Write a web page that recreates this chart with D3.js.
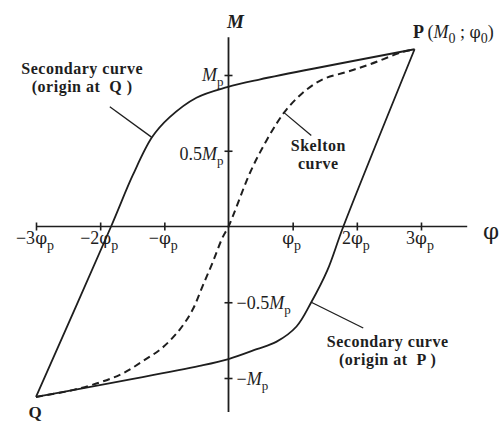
<!DOCTYPE html>
<html>
<head>
<meta charset="utf-8">
<script src="https://cdn.jsdelivr.net/npm/d3@7/dist/d3.min.js"></script>
<style>
  html, body { margin: 0; padding: 0; background: #fff; }
  svg { display: block; }
  text { font-family: "Liberation Serif", "DejaVu Serif", serif; fill: #1e1e1e; white-space: pre; }
  .phi { font-family: "DejaVu Serif", serif; }
</style>
</head>
<body>
<div id="chart"></div>
<script>
// Moment–curvature hysteresis: skeleton curve and the two secondary (unloading) curves.
// Curvature φ in units of φp, moment M in units of Mp.

// Skeleton curve, Q → origin → P
const skeletonPhi = [-3.00, -2.43, -2.01, -1.65, -1.34, -1.03, -0.76, -0.56, -0.41, -0.25, -0.09, 0.00, 0.33, 0.53, 0.75, 0.90, 1.15, 1.46, 1.84, 2.20, 2.70, 2.90];
const skeletonM   = [-1.125, -1.08, -1.03, -0.97, -0.89, -0.80, -0.68, -0.55, -0.40, -0.24, -0.07, 0.00, 0.35, 0.52, 0.68, 0.77, 0.88, 0.97, 1.02, 1.07, 1.15, 1.17];

// Secondary curve with origin at Q (Q → P)
const secQPhi = [-3.00, -1.83, -1.49, -1.19, -0.92, -0.50, -0.02, 0.48, 2.90];
const secQM   = [-1.125, 0.00, 0.34, 0.59, 0.72, 0.85, 0.92, 0.97, 1.17];

// Secondary curve with origin at P (P → Q)
const secPPhi = [2.90, 1.79, 1.54, 1.29, 1.06, 0.75, 0.44, 0.00, -0.45, -3.00];
const secPM   = [1.17, 0.00, -0.29, -0.50, -0.66, -0.76, -0.81, -0.875, -0.92, -1.125];

// Axis ticks and their labels: prefix, φ, subscript
const xTickValues = [-3, -2, -1, 1, 2, 3];
const xTickPrefix = ["\u22123", "\u22122", "\u2212", "", "2", "3"];
const yTickValues = [1, 0.5, -0.5, -1];
const yTickPrefix = ["", "0.5", "\u22120.5", "\u2212"];
const tickSub     = "p";

const width = 504, height = 421;
const svg = d3.select("#chart").append("svg")
  .attr("width", width).attr("height", height);

const x = d3.scaleLinear().domain([-3, 3]).range([36, 421]);
const y = d3.scaleLinear().domain([-1, 1]).range([378, 75]);

const ink = "#1e1e1e";

// ---- axes ----
const xAxis = d3.axisBottom(x).tickValues(xTickValues).tickFormat("").tickSizeOuter(0).tickSize(4);
const gx = svg.append("g").attr("transform", `translate(0,${y(0)})`).call(xAxis);
gx.select(".domain").remove();
gx.selectAll(".tick line").attr("y1", -4).attr("y2", 4).attr("stroke", ink).attr("stroke-width", 1.6);

const yAxis = d3.axisLeft(y).tickValues(yTickValues).tickFormat("").tickSizeOuter(0).tickSize(4);
const gy = svg.append("g").attr("transform", `translate(${x(0)},0)`).call(yAxis);
gy.select(".domain").remove();
gy.selectAll(".tick line").attr("x1", -4).attr("x2", 4).attr("stroke", ink).attr("stroke-width", 1.6);

svg.append("line")
  .attr("x1", x(-3)).attr("x2", x(3.72))
  .attr("y1", y(0)).attr("y2", y(0))
  .attr("stroke", ink).attr("stroke-width", 1.6);
svg.append("line")
  .attr("x1", x(0)).attr("x2", x(0))
  .attr("y1", y(1.25)).attr("y2", y(-1.225))
  .attr("stroke", ink).attr("stroke-width", 1.8);

// ---- curves ----
const line = d3.line().x(d => x(d[0])).y(d => y(d[1])).curve(d3.curveCatmullRom.alpha(0.5));
const zip = (a, b) => a.map((v, i) => [v, b[i]]);

svg.append("path").datum(zip(skeletonPhi, skeletonM))
  .attr("d", line).attr("fill", "none").attr("stroke", ink)
  .attr("stroke-width", 2).attr("stroke-dasharray", "7,4.5");

svg.append("path").datum(zip(secQPhi, secQM))
  .attr("d", line).attr("fill", "none").attr("stroke", ink).attr("stroke-width", 1.8);

svg.append("path").datum(zip(secPPhi, secPM))
  .attr("d", line).attr("fill", "none").attr("stroke", ink).attr("stroke-width", 1.8);

// ---- tick labels ----
xTickValues.forEach((v, i) => {
  const t = svg.append("text").attr("font-size", 18)
    .attr("x", x(v) - 1).attr("y", y(0) + 17).attr("text-anchor", "middle");
  if (xTickPrefix[i]) t.append("tspan").text(xTickPrefix[i]);
  t.append("tspan").attr("class", "phi").attr("font-size", 17).text("\u03c6");
  t.append("tspan").attr("font-size", 14).attr("dy", 6).text(tickSub);
});

yTickValues.forEach((v, i) => {
  const pos = v > 0;
  const t = svg.append("text").attr("font-size", 18)
    .attr("x", pos ? x(0) - 5 : x(0) + 8)
    .attr("y", y(v) + (pos ? (v === 1 ? 6 : 9) : 7))
    .attr("text-anchor", pos ? "end" : "start");
  if (yTickPrefix[i]) t.append("tspan").text(yTickPrefix[i]);
  t.append("tspan").attr("font-style", "italic").text("M");
  t.append("tspan").attr("font-size", 13).attr("dy", 5).text(tickSub);
});

// ---- axis titles ----
svg.append("text").attr("x", x(0) + 7).attr("y", 28).attr("text-anchor", "middle")
  .attr("font-size", 19).attr("font-weight", "bold").attr("font-style", "italic").text("M");
svg.append("text").attr("class", "phi").attr("x", 491).attr("y", 239).attr("text-anchor", "middle")
  .attr("font-size", 23).text("\u03c6");

// ---- point labels ----
const pLab = svg.append("text").attr("x", 413).attr("y", 38).attr("font-size", 18);
pLab.append("tspan").attr("font-weight", "bold").text("P ");
pLab.append("tspan").text("(");
pLab.append("tspan").attr("font-style", "italic").text("M");
pLab.append("tspan").attr("font-size", 14).attr("dy", 5).text("0");
pLab.append("tspan").attr("dy", -5).text(" ; ");
pLab.append("tspan").attr("class", "phi").attr("font-size", 16).text("\u03c6");
pLab.append("tspan").attr("font-size", 14).attr("dy", 5).text("0");
pLab.append("tspan").attr("dy", -5).text(")");

svg.append("text").attr("x", x(-3) - 1).attr("y", 418).attr("text-anchor", "middle")
  .attr("font-size", 17).attr("font-weight", "bold").text("Q");

// ---- curve annotations with leader lines ----
const notes = [
  { lines: ["Secondary curve", "(origin at  Q )"], tx: -2.28, ty: 1.005, from: [-1.85, 0.79], to: [-1.20, 0.59] },
  { lines: ["Skelton", "curve"], tx: 1.40, ty: 0.50, from: [0.87, 0.75], to: [1.29, 0.60] },
  { lines: ["Secondary curve", "(origin at  P )"], tx: 2.48, ty: -0.795, from: [1.29, -0.50], to: [2.10, -0.67] }
];
notes.forEach(n => {
  svg.append("line")
    .attr("x1", x(n.from[0])).attr("y1", y(n.from[1]))
    .attr("x2", x(n.to[0])).attr("y2", y(n.to[1]))
    .attr("stroke", ink).attr("stroke-width", 1.3);
  n.lines.forEach((s, k) => {
    svg.append("text").attr("font-size", 16).attr("font-weight", "bold")
      .attr("letter-spacing", 0.5)
      .attr("text-anchor", "middle")
      .attr("x", x(n.tx)).attr("y", y(n.ty) + k * 18).text(s);
  });
});
</script>
</body>
</html>
